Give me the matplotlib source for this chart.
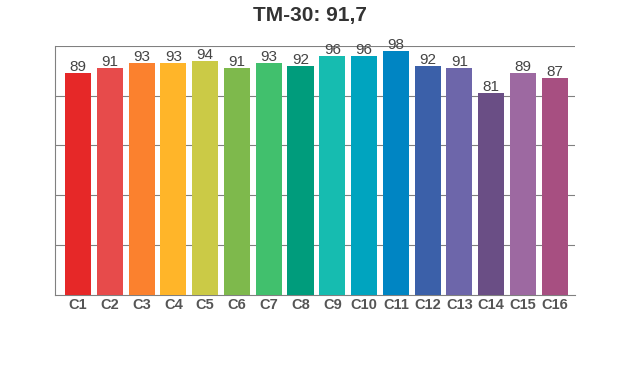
import matplotlib.pyplot as plt

# Fidelity values per hue bin
bins = ['C1', 'C2', 'C3', 'C4', 'C5', 'C6', 'C7', 'C8',
        'C9', 'C10', 'C11', 'C12', 'C13', 'C14', 'C15', 'C16']
values = [89, 91, 93, 93, 94, 91, 93, 92, 96, 96, 98, 92, 91, 81, 89, 87]
colors = ['#e62828', '#e74b4b', '#fb812e', '#ffb529', '#cbca46', '#7eb94c',
          '#41c06d', '#009c7c', '#16bcb0', '#00a4bf', '#0085c3', '#3b60a9',
          '#6d66aa', '#6a4e85', '#9d69a1', '#a74f81']
title = 'TM-30: 91,7'

plt.rcParams['font.family'] = ['Liberation Sans', 'DejaVu Sans']

fig = plt.figure(figsize=(6.2, 3.7), dpi=100)
ax = fig.add_axes([0.089, 0.203, 0.838, 0.673])

x = range(len(bins))
bars = ax.bar(x, values, width=0.82, color=colors, zorder=3)

# value labels just above each bar
for b, v in zip(bars, values):
    ax.annotate(str(v), (b.get_x() + b.get_width() / 2, v),
                xytext=(0, 1.5), textcoords='offset points',
                ha='center', va='baseline', fontsize=11, color='#444444')

ax.set_ylim(0, 100)
ax.set_xlim(-0.72, 15.63)
ax.set_yticks([20, 40, 60, 80, 100])
ax.set_yticklabels([])
ax.tick_params(axis='y', length=0)
ax.grid(axis='y', color='#808080', linewidth=0.8, zorder=0)

ax.set_xticks(list(x))
ax.set_xticklabels(bins, fontsize=10.5, fontweight='bold', color='#555555')
ax.tick_params(axis='x', length=0, pad=2.5)

for s in ['top', 'right']:
    ax.spines[s].set_visible(False)
ax.spines['left'].set_color('#808080')
ax.spines['bottom'].set_color('#808080')
ax.spines['left'].set_linewidth(0.8)
ax.spines['bottom'].set_linewidth(0.8)

fig.text(0.5, 0.958, title, ha='center', va='center',
         fontsize=15, fontweight='bold', color='#333333')

fig.savefig('out.png', dpi=100)
